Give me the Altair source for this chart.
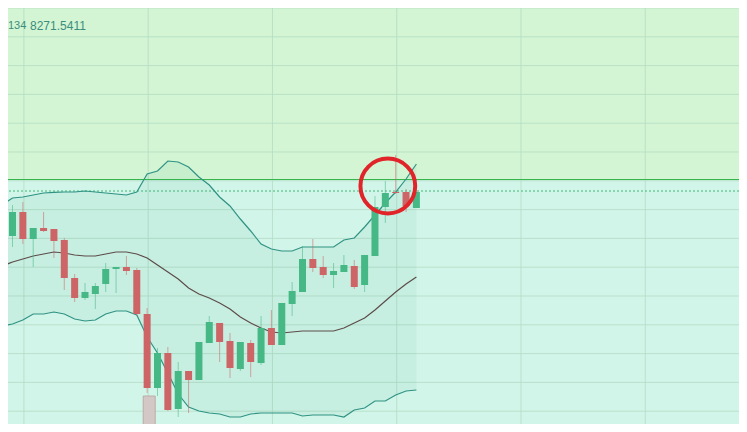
import altair as alt
import pandas as pd

# candle index (-1 is the partly visible candle at the left edge)
idx = list(range(-1, 40))
open_ = [8297.5, 8282, 8294, 8280.5, 8286, 8285.5, 8280, 8261, 8251, 8253, 8258, 8265.5, 8266.5,
         8265, 8243, 8206, 8223.5, 8195.5, 8214.5, 8210, 8228.5, 8238.5, 8229.5, 8215.5, 8228.5,
         8218.5, 8236, 8227.5, 8248, 8254, 8270.5, 8266.5, 8262.5, 8264, 8267, 8257.5, 8272,
         8296.5, 8304, 8304, 8296]
high = [8300, 8297.5, 8299, 8286, 8294, 8285.5, 8281, 8263, 8258.5, 8258.5, 8268.5, 8266.5, 8272,
        8266, 8246, 8226, 8226.5, 8219, 8214.5, 8229, 8242, 8238.5, 8233.5, 8229, 8230,
        8242, 8245, 8248.5, 8259, 8277, 8280.5, 8272, 8268.5, 8272.5, 8270, 8272.5, 8302,
        8309.5, 8322.5, 8305.5, 8304]
low = [8280, 8276.5, 8278, 8266.5, 8284, 8271, 8255, 8249, 8250, 8245.5, 8254, 8253.5, 8262.5,
       8242, 8203.5, 8202, 8194.5, 8191.5, 8193.5, 8210, 8228.5, 8219, 8211, 8214.5, 8211.5,
       8217.5, 8227.5, 8227.5, 8242, 8254, 8264, 8261, 8256, 8264, 8255.5, 8254, 8272,
       8288.5, 8303, 8294, 8296]
close = [8282.5, 8294, 8280.5, 8286, 8284.5, 8279.5, 8261, 8251, 8254, 8257, 8265.5, 8266.5, 8264.5,
         8243, 8206, 8223.5, 8195, 8214.5, 8210, 8229, 8239, 8229, 8216, 8229, 8219,
         8236, 8227.5, 8248.5, 8254.5, 8270.5, 8266, 8262.5, 8264.5, 8267.5, 8256.5, 8272.5, 8296.5,
         8303.5, 8303.5, 8297, 8304]

# Bollinger bands
upper = [8297.5, 8301, 8301.5, 8302.5, 8303.5, 8303.8, 8304, 8304, 8304.5, 8304, 8303.5, 8303, 8302.5,
         8304, 8313, 8314.5, 8319.5, 8319, 8316.5, 8311.5, 8307.5, 8301.5, 8297, 8290.5, 8284.5,
         8278, 8275.5, 8274.5, 8274.5, 8276.5, 8276.5, 8276.5, 8276.5, 8280, 8281, 8286.5, 8292.5,
         8298.5, 8304, 8310.5, 8318]
middle = [8267, 8269, 8270.5, 8272, 8273, 8274, 8273.5, 8272.5, 8272, 8272, 8273, 8274, 8274,
          8273, 8271, 8267.5, 8264, 8260.5, 8256, 8253, 8251, 8248.5, 8245.5, 8241.5, 8238.5,
          8236, 8234, 8233.5, 8234, 8234.5, 8234.5, 8234.5, 8234.5, 8236, 8238.5, 8241, 8245,
          8249.5, 8254, 8258, 8261.5]
lower = [8237, 8238, 8240, 8243, 8243, 8244, 8243, 8240.5, 8239.5, 8240, 8243, 8244.5, 8244.5,
         8242.5, 8231.5, 8223.5, 8213.5, 8203, 8196.5, 8194.5, 8193.5, 8193, 8191.5, 8191.5, 8193,
         8193.5, 8193.5, 8193.5, 8193.5, 8192, 8192.5, 8192.5, 8192.5, 8191.5, 8195, 8196, 8199.5,
         8199.5, 8202.5, 8204.5, 8205]

resistance_level = [8310.25]
dotted_level = [8304.5]
grid_prices = [8396, 8381.6, 8367.2, 8352.8, 8338.4, 8324, 8309.6, 8295.2, 8280.8, 8266.4,
               8252, 8237.6, 8223.2, 8208.8, 8194.4]
grid_idx = [1.1, 13.1, 25.1, 37.1, 49.1, 61.1]
volume_idx = [13.2]
volume_top = [8202]
volume_base = [8180]
circle_idx = [36.24]
circle_price = [8307]
label_left = "134"
label_main = "8271.5411"

W, H = 731, 416
xs = alt.Scale(domain=[0.047619, 69.666667], nice=False, zero=False)
ys = alt.Scale(domain=[8188, 8396], nice=False, zero=False)

df = pd.DataFrame({"i": idx, "open": open_, "high": high, "low": low, "close": close,
                   "upper": upper, "middle": middle, "lower": lower})
df["dir"] = ["up" if c >= o else "down" for o, c in zip(open_, close)]

X = alt.X("i:Q", scale=xs, axis=None)
color = alt.Color("dir:N", scale=alt.Scale(domain=["up", "down"], range=["#45b886", "#cd6466"]), legend=None)

top_bg = alt.Chart(pd.DataFrame({"lvl": resistance_level})).mark_rect(color="#d3f5d3").encode(
    y=alt.Y("lvl:Q", scale=ys, axis=None), y2=alt.value(0), x=alt.value(0), x2=alt.value(W))

hgrid = alt.Chart(pd.DataFrame({"p": grid_prices})).mark_rule(color="#b3dcc4", strokeWidth=1, opacity=0.8).encode(
    y=alt.Y("p:Q", scale=ys, axis=None))
vgrid = alt.Chart(pd.DataFrame({"g": grid_idx})).mark_rule(color="#b3dcc4", strokeWidth=1, opacity=0.8).encode(
    x=alt.X("g:Q", scale=xs, axis=None))

band = alt.Chart(df).mark_area(color="#2e9c86", opacity=0.07, clip=True).encode(
    x=X, y=alt.Y("upper:Q", scale=ys, axis=None), y2="lower:Q")

res_line = alt.Chart(pd.DataFrame({"lvl": resistance_level})).mark_rule(color="#36b54c", strokeWidth=1).encode(
    y=alt.Y("lvl:Q", scale=ys, axis=None))
dot_line = alt.Chart(pd.DataFrame({"lvl": dotted_level})).mark_rule(color="#3fb878", strokeWidth=1, strokeDash=[2, 2]).encode(
    y=alt.Y("lvl:Q", scale=ys, axis=None))

vol = alt.Chart(pd.DataFrame({"i": volume_idx, "v": volume_top, "b": volume_base})).mark_bar(
    size=12, color="#d4c8c6", stroke="#b9aca8", strokeWidth=1, clip=True).encode(
    x=alt.X("i:Q", scale=xs, axis=None), y=alt.Y("v:Q", scale=ys, axis=None), y2="b:Q")

up_line = alt.Chart(df).mark_line(color="#2f9384", strokeWidth=1.2, clip=True).encode(
    x=X, y=alt.Y("upper:Q", scale=ys, axis=None))
mid_line = alt.Chart(df).mark_line(color="#5d4c4a", strokeWidth=1.2, clip=True).encode(
    x=X, y=alt.Y("middle:Q", scale=ys, axis=None))
low_line = alt.Chart(df).mark_line(color="#2f9384", strokeWidth=1.2, clip=True).encode(
    x=X, y=alt.Y("lower:Q", scale=ys, axis=None))

wick = alt.Chart(df).mark_rule(strokeWidth=1, opacity=0.55, clip=True).encode(
    x=X, y=alt.Y("low:Q", scale=ys, axis=None), y2="high:Q", color=color)
body = alt.Chart(df).mark_bar(size=7, clip=True).encode(
    x=X, y=alt.Y("open:Q", scale=ys, axis=None), y2="close:Q", color=color)

circle = alt.Chart(pd.DataFrame({"i": circle_idx, "p": circle_price})).mark_point(
    shape="circle", size=3000, filled=False, color="#e0242a", strokeWidth=4, opacity=1).encode(
    x=alt.X("i:Q", scale=xs, axis=None), y=alt.Y("p:Q", scale=ys, axis=None))

txt1 = alt.Chart(pd.DataFrame({"t": [label_left]})).mark_text(
    align="left", baseline="middle", font="Liberation Sans", fontSize=11, color="#3b8d7d").encode(
    text="t:N", x=alt.value(0), y=alt.value(18))
txt2 = alt.Chart(pd.DataFrame({"t": [label_main]})).mark_text(
    align="left", baseline="middle", font="Liberation Sans", fontSize=12, color="#3b8d7d").encode(
    text="t:N", x=alt.value(22), y=alt.value(18))

chart = alt.layer(top_bg, hgrid, vgrid, band, res_line, dot_line, vol, up_line, mid_line, low_line,
                  wick, body, circle, txt1, txt2).properties(
    width=W, height=H, padding=0, autosize="none", background="#d2f5e9"
).configure_view(stroke=None)

chart.save("out.html", embed_options={"renderer": "svg", "actions": False})
